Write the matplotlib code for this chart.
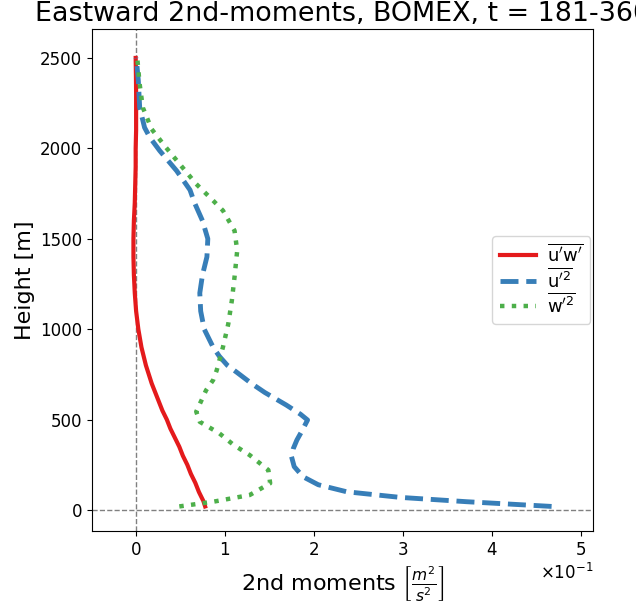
import matplotlib
matplotlib.use("Agg")
import matplotlib.pyplot as plt

# heights [m] and profiles [m^2/s^2]
z_uw = [20, 50, 100, 150, 200, 250, 300, 350, 400, 450, 500, 550, 600, 650, 700,
        800, 900, 1000, 1100, 1200, 1300, 1400, 1500, 1600, 1700, 1800, 1900,
        2000, 2100, 2200, 2300, 2400, 2500]
uw = [0.078, 0.076, 0.071, 0.067, 0.062, 0.058, 0.053, 0.049, 0.044, 0.039, 0.035,
      0.030, 0.026, 0.022, 0.018, 0.0115, 0.0065, 0.003, 0.0005, -0.001, -0.002, -0.0025,
      -0.0025, -0.002, -0.001, -0.0005, 0.0, 0.0, 0.0005, 0.0005, 0.0005, 0.0003, 0.0]

z_uu = [20, 46, 70, 101, 140, 184, 240, 295, 340, 387, 440, 498, 530, 581, 650, 700,
        760, 800, 850, 900, 1000, 1100, 1200, 1300, 1400, 1500, 1600, 1700, 1770,
        1876, 1987, 2060, 2115, 2226, 2373, 2483, 2500]
uu = [0.467, 0.372, 0.297, 0.237, 0.205, 0.188, 0.178, 0.175, 0.177, 0.181, 0.187,
      0.193, 0.185, 0.169, 0.145, 0.130, 0.114, 0.103, 0.094, 0.087, 0.077, 0.073,
      0.072, 0.075, 0.080, 0.081, 0.075, 0.066, 0.061, 0.046, 0.027, 0.016, 0.010,
      0.0045, 0.003, 0.001, 0.0005]

z_ww = [20, 46, 83, 148, 221, 304, 360, 424, 488, 544, 608, 662, 719, 773, 901, 1030,
        1159, 1288, 1435, 1545, 1656, 1711, 1803, 1904, 2005, 2106, 2226, 2355, 2487]
ww = [0.049, 0.087, 0.128, 0.151, 0.149, 0.128, 0.110, 0.094, 0.072, 0.068, 0.074,
      0.079, 0.087, 0.091, 0.098, 0.104, 0.108, 0.111, 0.114, 0.111, 0.098, 0.087,
      0.068, 0.051, 0.034, 0.018, 0.008, 0.0045, 0.002]

fig = plt.figure(figsize=(6.36, 6.02), dpi=100)
ax = fig.add_axes([0.1447, 0.1179, 0.7877, 0.8339])

ax.axhline(0, color='grey', ls='--', lw=1)
ax.axvline(0, color='grey', ls='--', lw=1)

ax.plot(uw, z_uw, color='#e41a1c', lw=3, ls='-',
        label=r'$\overline{\mathrm{u}^{\prime}\mathrm{w}^{\prime}}$')
ax.plot(uu, z_uu, color='#377eb8', lw=3.5, ls='--',
        label=r'$\overline{\mathrm{u}^{\prime 2}}$')
ax.plot(ww, z_ww, color='#4daf4a', lw=3.2, ls=':',
        label=r'$\overline{\mathrm{w}^{\prime 2}}$')

ax.set_xlim(-0.049, 0.5135)
ax.set_ylim(-116, 2660)
ax.ticklabel_format(axis='x', style='sci', scilimits=(0, 0), useMathText=True)
ax.tick_params(labelsize=12)
ax.xaxis.get_offset_text().set_fontsize(12)

ax.set_xlabel(r'2nd moments $\left[\frac{m^2}{s^2}\right]$', fontsize=16)
ax.set_ylabel('Height [m]', fontsize=16)
ax.set_title('Eastward 2nd-moments, BOMEX, t = 181-360', fontsize=19.4)
ax.legend(loc='center right', fontsize=13, labelspacing=0.1, handletextpad=0.6,
          borderaxespad=0.15)

fig.savefig('out.png', dpi=100)
